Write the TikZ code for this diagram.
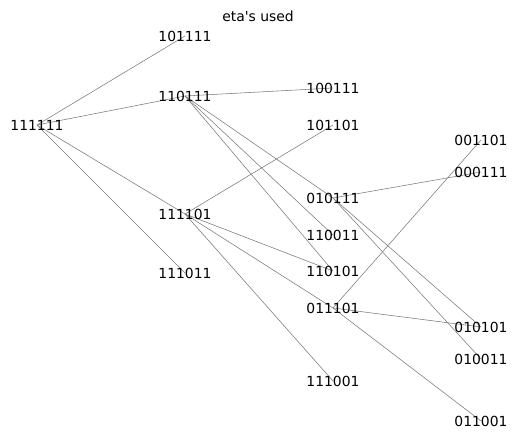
\documentclass[tikz,border=0pt]{standalone}
\usepackage{fontspec}
\setmainfont{DejaVu Sans}
\usetikzlibrary{backgrounds}
\tikzset{
  word/.style={inner sep=0pt, anchor=center, font=\fontsize{13.9}{16}\selectfont},
  link/.style={draw=black!52, line width=0.55pt}
}
\begin{document}
\begin{tikzpicture}[x=1pt, y=-1pt]
  \useasboundingbox (0,0) rectangle (517,439);
  \node[word] (title) at (258,16) {eta\textquotesingle s used};
  % first column
  \node[word] (n111111) at (37,125) {111111};
  % second column
  \node[word] (n101111) at (185,36) {101111};
  \node[word] (n110111) at (185,96) {110111};
  \node[word] (n111101) at (185,214) {111101};
  \node[word] (n111011) at (185,273) {111011};
  % third column
  \node[word] (n100111) at (333,88) {100111};
  \node[word] (n101101) at (333,125) {101101};
  \node[word] (n010111) at (333,198) {010111};
  \node[word] (n110011) at (333,235) {110011};
  \node[word] (n110101) at (333,271) {110101};
  \node[word] (n011101) at (333,308) {011101};
  \node[word] (n111001) at (333,381) {111001};
  % fourth column
  \node[word] (n001101) at (481,140) {001101};
  \node[word] (n000111) at (481,172) {000111};
  \node[word] (n010101) at (481,327) {010101};
  \node[word] (n010011) at (481,359) {010011};
  \node[word] (n011001) at (481,421) {011001};
  % edges sit beneath the labels
  \begin{pgfonlayer}{background}
    \foreach \a/\b in {
      n111111/n101111, n111111/n110111, n111111/n111101, n111111/n111011,
      n110111/n100111, n110111/n010111, n110111/n110011, n110111/n110101,
      n111101/n101101, n111101/n110101, n111101/n011101, n111101/n111001,
      n010111/n000111, n010111/n010101, n010111/n010011,
      n011101/n001101, n011101/n010101, n011101/n011001}
      \draw[link] (\a.center) -- (\b.center);
  \end{pgfonlayer}
\end{tikzpicture}
\end{document}
